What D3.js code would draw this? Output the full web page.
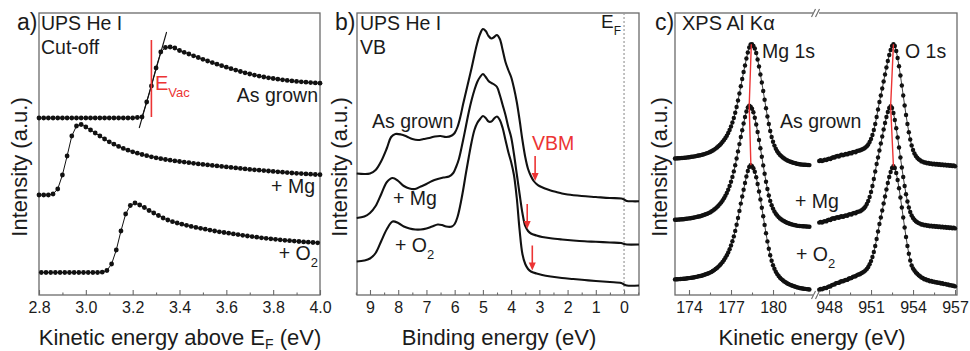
<!DOCTYPE html>
<html><head><meta charset="utf-8">
<script src="https://cdn.jsdelivr.net/npm/d3@7"></script>
<style>
body{margin:0;background:#fff}
svg{display:block}
text{font-family:'Liberation Sans',Arial,sans-serif;fill:#1b1b1b}
</style>
</head><body><script>
// ---------------- DATA ----------------
// Panel a: UPS He I cut-off (kinetic energy above EF, eV), dots every 0.02 eV
const cutStep = 0.02;
const cutStartAsGrown = 2.80, cutStartMg = 2.80, cutStartO2 = 2.81;
const cutAsGrown = [177,177,177,177,177,177,177,177,177,177,177,177,177,177,177,177,177,177,177,177,177,177.5,
  178,193,209,227,243,247.5,248,247,244.5,242.7,241,239.2,237.5,235.7,234,232.4,230.8,229.3,227.8,226.3,224.9,
  223.5,222.2,221,219.9,218.9,218,217.2,216.5,215.8,215.2,214.6,214.1,213.6,213.2,212.8,212.4,212.1,211.8];
const cutMg = [100,100,100,101,106,120,139,159,169,170.5,168,165,162,159,156,153.2,150.8,148.6,146.6,144.8,143.2,
  141.8,140.5,139.3,138.2,137.2,136.3,135.5,134.8,134.1,133.5,132.9,132.3,131.7,131.1,130.6,130.1,129.6,129.1,
  128.6,128.1,127.6,127.1,126.6,126.1,125.6,125.2,124.8,124.4,124,123.6,123.2,122.8,122.4,122,121.7,121.4,121.1,
  120.8,120.5,120.3];
const cutO2 = [22.5,22.5,22.5,22.5,22.5,22.5,22.5,22.5,22.5,22.5,22.5,22.5,22.5,22.8,24.5,31,45,64,81,89.5,92,90,
  87.5,84.5,82,79.5,77,75,73.3,72,70.8,69.7,68.6,67.6,66.7,65.8,64.9,64,63.2,62.5,61.8,61.1,60.4,59.7,59,58.4,
  57.8,57.2,56.7,56.2,55.7,55.2,54.7,54.3,53.9,53.5,53.1,52.8,52.5,52.2];
const cutTangent = [[3.228,167],[3.345,263]];
const eVac = 3.28, eVacRange = [178, 255];

// Panel b: UPS He I valence band [binding energy eV, intensity]
const vbAsGrown = [[9.47,121.5],[9.2,121],[9.0,121.5],[8.8,125],[8.6,134],[8.4,147],[8.25,158],[8.1,161],[7.9,160.5],
  [7.7,158.5],[7.5,156],[7.3,155],[7.1,156],[6.9,157],[6.7,158.5],[6.5,159],[6.3,158],[6.1,159.5],[6.0,162],[5.9,168],
  [5.8,178],[5.7,191],[5.6,203],[5.5,215],[5.4,227],[5.3,240],[5.2,252],[5.1,261],[5.0,266],[4.9,264],[4.8,259],
  [4.7,256.5],[4.6,258],[4.5,260],[4.4,256],[4.3,245],[4.2,233],[4.1,225],[4.0,218],[3.9,207],[3.8,193],[3.7,175],
  [3.6,155],[3.5,138],[3.4,126],[3.3,119],[3.2,114],[3.1,111],[3.0,109],[2.8,106.5],[2.6,104.5],[2.4,103],
  [2.2,101.5],[2.0,100.5],[1.5,99],[1.0,98],[0.5,97],[0.1,96.5],[0.0,95.5],[-0.1,94],[-0.3,93.7],[-0.53,93.7]];
const vbMg = [[9.47,77],[9.2,78.5],[9.0,82],[8.8,89],[8.6,101],[8.4,113],[8.2,117],[8.0,114],[7.8,109],[7.6,106.5],
  [7.4,106],[7.2,108.5],[7.0,111],[6.8,114],[6.6,116],[6.4,117.5],[6.2,118.5],[6.05,122],[5.95,128],[5.85,136],
  [5.7,155],[5.6,169],[5.5,183],[5.4,195],[5.3,205],[5.2,213],[5.1,218],[5.0,221],[4.9,218],[4.8,214],[4.7,212],
  [4.6,210.5],[4.5,208],[4.4,200],[4.3,190],[4.2,180],[4.1,168],[4.0,158],[3.9,141],[3.8,121],[3.7,101],[3.6,82],
  [3.5,69],[3.4,64],[3.3,61.5],[3.1,59.5],[2.9,58],[2.6,56.7],[2.2,55.5],[1.8,54.5],[1.4,53.7],[1.0,53.2],
  [0.5,52.5],[0.1,52],[0.0,51],[-0.1,50.5],[-0.53,50.5]];
const vbO2 = [[9.47,33.5],[9.2,34.5],[9.0,36.5],[8.8,42],[8.6,54],[8.4,66],[8.2,73.5],[8.0,72],[7.8,68.5],[7.6,66.5],
  [7.4,65.5],[7.2,65.5],[7.0,66.5],[6.8,68.5],[6.6,70.5],[6.45,70],[6.3,68.5],[6.1,68.5],[6.0,71],[5.9,78],[5.8,90],
  [5.7,105],[5.6,122],[5.5,138],[5.4,153],[5.3,165],[5.2,172],[5.1,176],[5.0,179],[4.9,177],[4.8,173.5],[4.7,173.5],
  [4.6,176.5],[4.5,178.5],[4.4,175],[4.3,167],[4.2,155],[4.1,143],[4.0,133],[3.9,120],[3.8,97],[3.7,65],[3.6,41],
  [3.5,31],[3.4,26],[3.3,23.5],[3.1,21.5],[2.9,20],[2.6,18.5],[2.2,17],[1.8,16],[1.4,15],[1.0,14],[0.5,13],
  [0.1,12],[0.0,10.5],[-0.1,9.5],[-0.53,9.5]];
const vbmEnergy = [3.15, 3.43, 3.25];
const vbmIntensity = [113, 65, 23.5];

// Panel c: XPS Al Kα core levels, dots every 0.1 eV
const xpsStep = 0.1;
const mg1sStart = 173.0, o1sStart = 947.3;
const mg1sAsGrown = [136.5,136.6,136.7,136.8,136.9,137.0,137.1,137.2,137.4,137.6,
  137.8,138.0,138.2,138.4,138.6,138.9,139.2,139.5,139.8,140.1,
  140.5,140.9,141.4,141.9,142.4,143.0,143.7,144.5,145.4,146.4,
  147.5,148.7,150.0,151.5,153.2,155.0,157.0,159.3,162.0,165.0,
  168.5,172.5,177.0,182.2,188.0,194.5,201.5,208.7,216.0,223.0,
  229.5,236.5,242.5,247.5,250.5,250.8,249.0,246.5,242.0,235.5,
  228.5,220.5,212.5,204.0,195.3,186.8,178.5,171.0,164.0,158.0,
  153.2,149.4,146.3,143.8,141.8,140.1,138.7,137.5,136.5,135.6,
  134.8,134.1,133.5,133.0,132.5,132.1,131.7,131.3,131.0,130.7,
  130.5,130.4,130.3,130.2,130.1,130.0,129.9];
const mg1sMg = [75.2,75.3,75.4,75.5,75.6,75.7,75.8,76.0,76.2,76.4,
  76.6,76.8,77.0,77.3,77.6,77.9,78.2,78.5,78.8,79.2,
  79.7,80.2,80.7,81.2,81.9,82.6,83.5,84.4,85.5,86.6,
  87.9,89.3,90.9,92.6,94.5,96.7,99.2,102.0,105.3,109.0,
  113.3,118.1,123.6,129.8,136.5,143.6,150.9,158.0,164.8,171.5,
  178.0,183.5,187.5,189.2,188.4,186.3,182.8,177.3,170.5,163.0,
  155.0,146.8,138.2,129.6,121.2,113.3,106.0,99.5,94.1,89.8,
  86.4,83.6,81.3,79.5,77.9,76.6,75.5,74.6,73.7,73.0,
  72.3,71.8,71.3,70.8,70.4,70.0,69.7,69.4,69.1,69.0,
  68.9,68.8,68.7,68.6,68.5,68.4,68.3];
const mg1sO2 = [15.6,15.7,15.8,15.9,16.0,16.1,16.2,16.3,16.5,16.7,
  16.9,17.1,17.3,17.5,17.8,18.1,18.4,18.7,19.0,19.3,
  19.7,20.2,20.7,21.2,21.7,22.4,23.1,24.0,24.9,26.0,
  27.1,28.4,29.8,31.4,33.1,35.0,37.2,39.7,42.5,45.8,
  49.5,53.8,58.6,64.1,70.3,77.0,84.1,91.4,98.5,105.3,
  112.0,118.5,124.0,128.0,129.7,128.9,126.8,123.3,117.8,111.0,
  103.5,95.5,87.3,78.7,70.1,61.7,53.6,46.3,39.7,34.2,
  29.8,26.2,23.3,20.9,19.0,17.3,15.9,14.7,13.6,12.7,
  11.8,11.0,10.4,9.8,9.2,8.7,8.2,7.8,7.4,7.0,
  6.7,6.5,6.3,6.1,5.9,5.7,5.5];
const o1sAsGrown = [134.0,134.8,133.9,134.6,135.4,134.9,135.7,136.4,136.0,137.1,
  137.8,137.4,138.6,139.1,138.5,139.6,140.2,139.7,140.4,141.0,
  140.6,141.5,142.0,141.6,142.7,143.1,142.8,144.0,144.4,144.5,
  145.2,145.8,146.5,147.5,148.8,150.5,153.0,156.0,160.0,165.0,
  171.0,178.0,185.5,193.0,199.5,206.5,213.5,220.5,227.5,234.0,
  240.0,245.0,249.0,250.8,249.0,244.0,237.0,228.7,219.5,209.5,
  199.5,189.5,180.0,171.0,162.7,155.5,149.5,145.0,141.5,139.0,
  137.2,135.8,134.9,133.6,133.4,132.4,132.6,131.7,132.0,131.2,
  131.6,130.8,131.3,130.5,131.0,130.3,130.8,130.0,130.5,129.7,
  130.2,129.5,130.0,129.2,129.7,129.0,129.5,128.8];
const o1sMg = [72.4,73.1,72.5,73.4,73.9,73.6,74.8,75.3,74.9,76.2,
  76.8,76.3,77.4,77.8,77.2,78.3,78.7,78.1,79.1,79.6,
  79.3,80.4,80.9,80.4,81.6,82.1,81.8,83.0,83.4,83.6,
  84.5,85.5,86.8,88.5,91.0,94.0,98.0,103.0,109.0,116.0,
  123.5,131.0,137.5,144.5,151.5,158.5,165.5,172.0,178.0,183.0,
  187.0,188.8,187.0,182.0,175.0,166.7,157.5,147.5,137.5,127.5,
  118.0,109.0,100.7,93.5,87.5,83.0,79.5,77.0,75.2,73.8,
  72.7,71.9,71.4,70.5,70.6,69.7,70.1,69.2,69.6,68.8,
  69.3,68.5,69.0,68.3,68.8,68.0,68.5,67.7,68.2,67.5,
  68.0,67.2,67.7,67.0,67.5,66.8,67.2,66.6];
const o1sO2 = [5.3,6.1,5.8,6.6,7.0,6.9,7.9,8.5,8.6,9.9,
  10.4,10.6,11.9,12.1,12.1,13.3,13.7,13.8,14.6,15.0,
  15.1,16.2,16.8,16.9,18.1,18.6,18.7,19.9,20.5,20.8,
  21.7,22.5,23.4,24.6,26.1,28.0,30.7,33.9,38.0,43.0,
  49.0,56.0,63.5,71.0,77.5,84.5,91.5,98.5,105.5,112.0,
  118.0,123.0,127.0,128.8,127.0,122.0,115.0,106.7,97.5,87.5,
  77.5,67.5,58.0,49.0,41.2,34.5,29.5,26.5,24.5,22.5,
  21.2,19.8,18.8,17.5,17.0,15.8,15.7,14.7,14.7,13.8,
  14.0,13.2,13.4,12.6,12.8,12.1,12.3,11.5,11.7,10.9,
  11.1,10.4,10.5,9.7,9.9,9.2,9.2,8.6];
const mg1sPeaks = [[178.45,250.8],[178.3,189.2],[178.42,129.7]];
const o1sPeaks = [[952.6,250.8],[952.4,188.8],[952.6,128.8]];

// Tick labels
const ticksA = [2.8,3.0,3.2,3.4,3.6,3.8,4.0];
const minorA = [2.9,3.1,3.3,3.5,3.7,3.9];
const ticksB = [9,8,7,6,5,4,3,2,1,0];
const minorB = [9.5,8.5,7.5,6.5,5.5,4.5,3.5,2.5,1.5,0.5,-0.5];
const ticksCL = [174,177,180], minorCL = [175.5,178.5,181.5];
const ticksCR = [948,951,954,957], minorCR = [949.5,952.5,955.5];

// ---------------- DRAW ----------------
const W = 970, H = 351, TOP = 13, BOT = 295;
const RED = '#ec3434', FRAME = '#6a6a6a', INK = '#111';
const svg = d3.select('body').append('svg').attr('width', W).attr('height', H);

const y = d3.scaleLinear().domain([0, 282]).range([BOT, TOP]);
const xa = d3.scaleLinear().domain([2.8, 4.0]).range([39, 320]);
const xb = d3.scaleLinear().domain([9.46, -0.53]).range([357, 639]);
const xcL = d3.scaleLinear().domain([173, 183.07]).range([675, 816]);
const xcR = d3.scaleLinear().domain([947.07, 957.14]).range([816, 957]);

// tick label font detection
let tickFont = "'Liberation Sans Narrow', monospace", tickSize = 18.5;
{
  const t = svg.append('text').style('font-family', tickFont).style('font-size', tickSize + 'px').text('3.0');
  const w = t.node().getComputedTextLength(); t.remove();
  if (w > 27) { tickFont = "'Liberation Sans', Arial, sans-serif"; tickSize = 16; }
}

const series = (x0, step, arr) => arr.map((v, i) => [+(x0 + i * step).toFixed(3), v]);

function frame(x0, x1) {
  svg.append('rect').attr('x', x0).attr('y', TOP).attr('width', x1 - x0).attr('height', BOT - TOP)
    .attr('fill', 'none').attr('stroke', FRAME).attr('stroke-width', 1.3);
}
function axis(xs, majors, minors, fmt) {
  const g = svg.append('g').attr('transform', `translate(0,${BOT})`)
    .call(d3.axisBottom(xs).tickValues(majors).tickSize(-5).tickPadding(7).tickFormat(fmt));
  g.select('.domain').remove();
  g.selectAll('line').attr('stroke', FRAME).attr('stroke-width', 1.1);
  g.selectAll('text').style('font-family', tickFont).style('font-size', tickSize + 'px').attr('fill', '#1b1b1b');
  const m = svg.append('g').attr('transform', `translate(0,${BOT})`)
    .call(d3.axisBottom(xs).tickValues(minors).tickSize(-2.5).tickFormat(''));
  m.select('.domain').remove();
  m.selectAll('line').attr('stroke', FRAME).attr('stroke-width', 1.1);
}
function dots(xs, data, r, lw) {
  const g = svg.append('g');
  g.append('path').datum(data).attr('d', d3.line().x(d => xs(d[0])).y(d => y(d[1])))
    .attr('fill', 'none').attr('stroke', INK).attr('stroke-width', lw);
  g.selectAll('circle').data(data).join('circle')
    .attr('cx', d => xs(d[0])).attr('cy', d => y(d[1])).attr('r', r).attr('fill', INK);
}
function label(x, yy, txt, size, opts = {}) {
  const t = svg.append('text').attr('x', x).attr('y', yy).style('font-size', size + 'px');
  if (opts.anchor) t.attr('text-anchor', opts.anchor);
  if (opts.fill) t.attr('fill', opts.fill).style('fill', opts.fill);
  return t.text(txt);
}
function withSub(x, yy, main, sub, size, subSize, drop, opts = {}) {
  const t = svg.append('text').attr('x', x).attr('y', yy).style('font-size', size + 'px');
  if (opts.anchor) t.attr('text-anchor', opts.anchor);
  if (opts.fill) t.style('fill', opts.fill);
  t.append('tspan').text(main);
  t.append('tspan').attr('dy', drop).style('font-size', subSize + 'px').text(sub);
  if (opts.after) t.append('tspan').attr('dy', -drop).text(opts.after);
  return t;
}
function yTitle(x) {
  svg.append('text').attr('transform', `translate(${x},167) rotate(-90)`).attr('text-anchor', 'middle')
    .style('font-size', '22px').text('Intensity (a.u.)');
}

// ---- Panel a ----
frame(39, 320);
axis(xa, ticksA, minorA, d3.format('.1f'));
svg.append('path').datum(cutTangent).attr('d', d3.line().x(d => xa(d[0])).y(d => y(d[1])))
  .attr('stroke', INK).attr('stroke-width', 1.1).attr('fill', 'none');
dots(xa, series(cutStartAsGrown, cutStep, cutAsGrown), 2.4, 1);
dots(xa, series(cutStartMg, cutStep, cutMg), 2.4, 1);
dots(xa, series(cutStartO2, cutStep, cutO2), 2.4, 1);
svg.append('line').attr('x1', xa(eVac)).attr('x2', xa(eVac)).attr('y1', y(eVacRange[0])).attr('y2', y(eVacRange[1]))
  .attr('stroke', RED).attr('stroke-width', 1.6);
withSub(155, 90, 'E', 'Vac', 20, 13, 7, { fill: RED });
label(17, 30, 'a)', 23);
label(41, 30, 'UPS He I', 19.5);
label(41, 54, 'Cut-off', 19.5);
label(318, 102, 'As grown', 19.5, { anchor: 'end' });
label(315, 193, '+ Mg', 19.5, { anchor: 'end' });
withSub(318, 260, '+ O', '2', 19.5, 13, 7, { anchor: 'end' });
withSub(180, 345, 'Kinetic energy above E', 'F', 22, 14, 3.5, { anchor: 'middle', after: ' (eV)' });
yTitle(27);

// ---- Panel b ----
frame(357, 639);
axis(xb, ticksB, minorB, d3.format('d'));
svg.append('line').attr('x1', xb(0)).attr('x2', xb(0)).attr('y1', TOP).attr('y2', BOT)
  .attr('stroke', '#9a9a9a').attr('stroke-width', 1.2).attr('stroke-dasharray', '2,2');
const vbLine = d3.line().x(d => xb(d[0])).y(d => y(d[1])).curve(d3.curveCatmullRom.alpha(0.5));
[vbAsGrown, vbMg, vbO2].forEach(s => {
  svg.append('path').datum(s).attr('d', vbLine).attr('fill', 'none').attr('stroke', INK).attr('stroke-width', 2.1);
});
vbmEnergy.forEach((e, i) => {
  const x = xb(e), ty = y(vbmIntensity[i]) - 1, tail = ty - 25;
  svg.append('line').attr('x1', x).attr('x2', x).attr('y1', tail).attr('y2', ty - 6)
    .attr('stroke', RED).attr('stroke-width', 1.6);
  svg.append('path').attr('d', `M${x - 3.5},${ty - 8}L${x + 3.5},${ty - 8}L${x},${ty}Z`).attr('fill', RED);
});
label(532, 150, 'VBM', 19.5, { fill: RED });
withSub(601, 28, 'E', 'F', 19, 12, 7);
label(335, 30, 'b)', 23);
label(360, 30, 'UPS He I', 19.5);
label(360, 54, 'VB', 19.5);
label(372, 128, 'As grown', 19.5);
label(393, 205, '+ Mg', 19.5);
withSub(395, 252, '+ O', '2', 19.5, 13, 7);
label(499, 345, 'Binding energy (eV)', 22, { anchor: 'middle' });
yTitle(347);

// ---- Panel c ----
frame(675, 957);
axis(xcL, ticksCL, minorCL, d3.format('d'));
axis(xcR, ticksCR, minorCR, d3.format('d'));
[mg1sAsGrown, mg1sMg, mg1sO2].forEach(s => dots(xcL, series(mg1sStart, xpsStep, s), 2.2, 0.8));
[o1sAsGrown, o1sMg, o1sO2].forEach(s => dots(xcR, series(o1sStart, xpsStep, s), 2.2, 0.8));
svg.append('path').datum(mg1sPeaks).attr('d', d3.line().x(d => xcL(d[0])).y(d => y(d[1])))
  .attr('fill', 'none').attr('stroke', RED).attr('stroke-width', 1.4);
svg.append('path').datum(o1sPeaks).attr('d', d3.line().x(d => xcR(d[0])).y(d => y(d[1])))
  .attr('fill', 'none').attr('stroke', RED).attr('stroke-width', 1.4);
// axis break marks
const bx = xcL(183.07);
[TOP, BOT].forEach(yy => {
  svg.append('rect').attr('x', bx - 3).attr('y', yy - 2).attr('width', 6).attr('height', 4).attr('fill', '#fff');
  [-2.5, 1.5].forEach(dx => {
    svg.append('line').attr('x1', bx + dx - 2).attr('y1', yy + 4).attr('x2', bx + dx + 2).attr('y2', yy - 4)
      .attr('stroke', FRAME).attr('stroke-width', 1.1);
  });
});
label(655, 30, 'c)', 23);
label(682, 30, 'XPS Al K\u03b1', 20);
label(762, 58, 'Mg 1s', 19.5);
label(905, 58, 'O 1s', 19.5);
label(780, 128, 'As grown', 19.5);
label(795, 208, '+ Mg', 19.5);
withSub(796, 261, '+ O', '2', 19.5, 13, 7);
label(812, 345, 'Kinetic energy (eV)', 22, { anchor: 'middle' });
yTitle(667);
</script></body></html>
